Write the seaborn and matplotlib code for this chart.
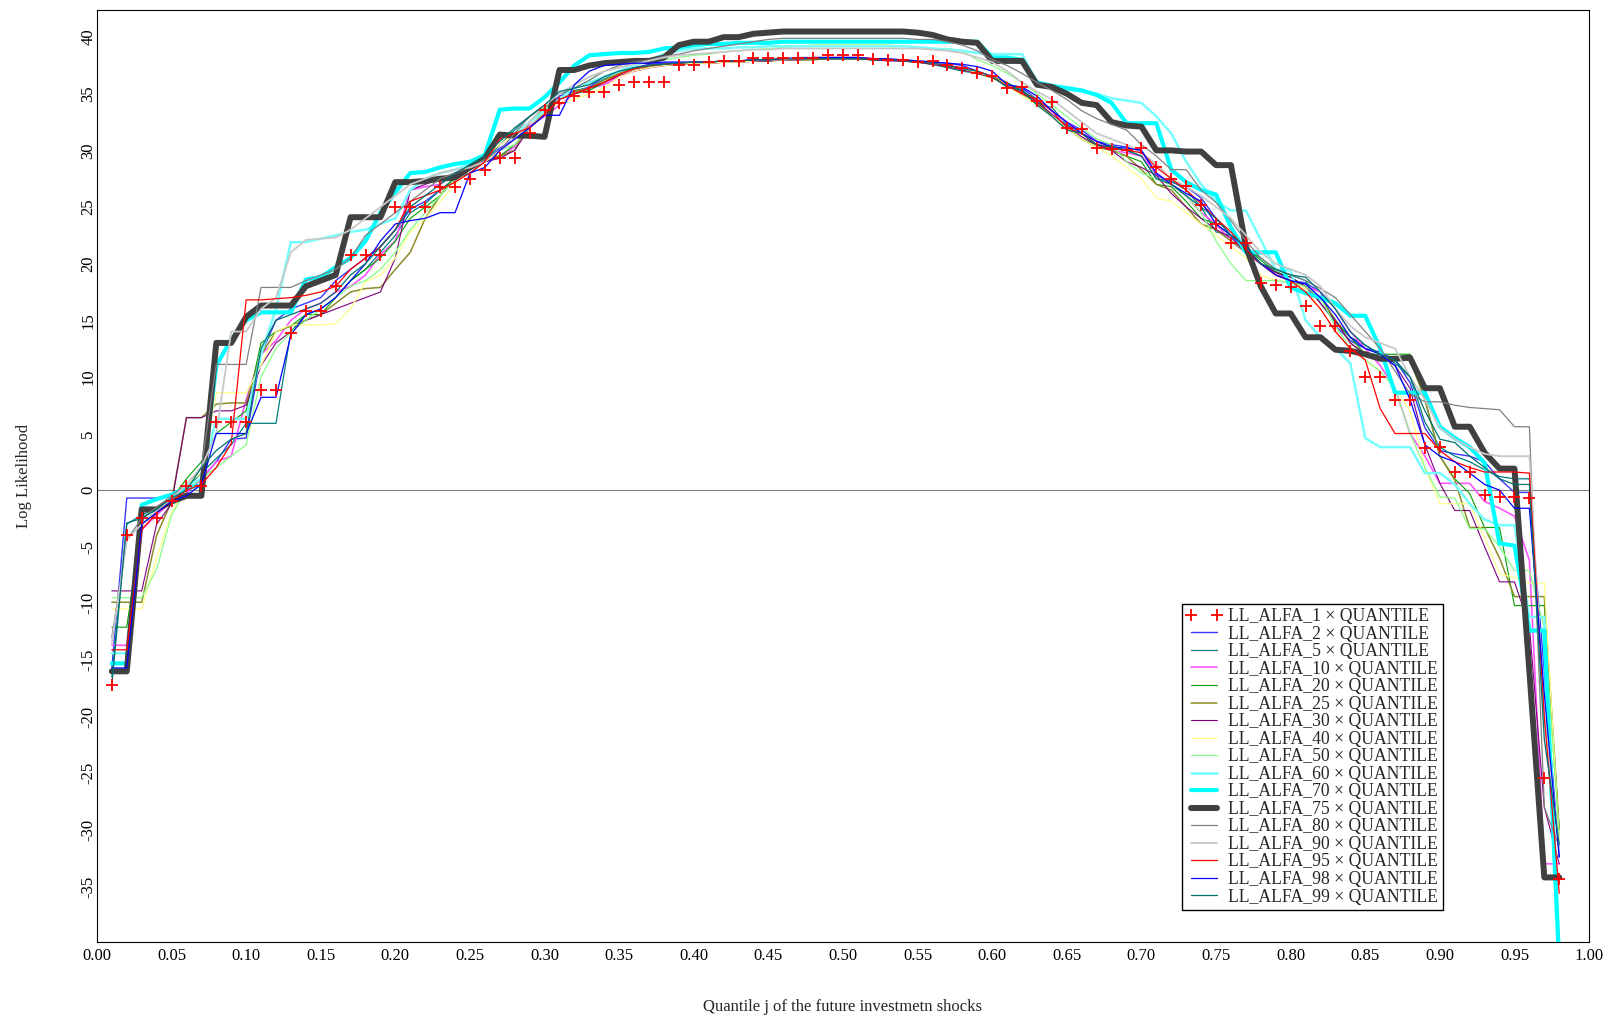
import numpy as np
import pandas as pd
import matplotlib
matplotlib.use('Agg')
import matplotlib.pyplot as plt
import seaborn as sns
from matplotlib.ticker import MultipleLocator, FormatStrFormatter

# quantile grid j = 0.01 ... 0.98
quantile_j = np.round(np.arange(1, 99) * 0.01, 2)

alfa_levels = [1, 2, 5, 10, 20, 25, 30, 40, 50, 60, 70, 75, 80, 90, 95, 98, 99]

ll_alfa_1 = [
    -17.2, -4.0, -2.5, -2.5, -1.0, 0.4, 0.4, 6.0, 6.0, 6.0,
    8.8, 8.8, 13.9, 15.8, 15.8, 18.0, 20.8, 20.8, 20.8, 25.0,
    25.0, 25.0, 26.8, 26.8, 27.5, 28.3, 29.3, 29.3, 31.5, 33.6,
    34.2, 34.8, 35.2, 35.2, 35.8, 36.0, 36.0, 36.0, 37.5, 37.5,
    37.8, 37.9, 37.9, 38.2, 38.2, 38.2, 38.2, 38.2, 38.4, 38.4,
    38.4, 38.1, 38.0, 38.0, 37.8, 37.9, 37.5, 37.3, 36.8, 36.6,
    35.5, 35.6, 34.4, 34.3, 32.0, 31.9, 30.2, 30.1, 30.0, 30.2,
    28.5, 27.5, 26.9, 25.2, 23.5, 21.8, 21.8, 18.3, 18.1, 17.9,
    16.3, 14.5, 14.5, 12.3, 10.0, 10.0, 8.0, 8.0, 3.7, 3.8,
    1.6, 1.6, -0.4, -0.6, -0.6, -0.7, -25.4, -34.3]

ll_alfa_2 = [
    -15.7, -0.7, -0.7, -0.7, -0.5, -0.3, 1.0, 2.5, 4.5, 4.6,
    12.0, 15.0, 16.0, 16.5, 17.0, 18.5, 19.5, 20.5, 21.5, 23.0,
    24.8, 25.5, 26.5, 27.5, 28.5, 29.0, 30.2, 31.0, 32.5, 33.5,
    34.8, 35.2, 35.6, 36.5, 37.0, 37.3, 37.6, 37.7, 37.7, 37.7,
    37.8, 37.8, 37.9, 38.0, 38.0, 38.1, 38.2, 38.2, 38.2, 38.2,
    38.2, 38.1, 38.0, 38.0, 37.9, 37.8, 37.7, 37.5, 37.0, 36.5,
    35.8, 35.5, 34.5, 33.5, 32.5, 31.8, 30.8, 30.5, 30.3, 30.0,
    27.8, 27.2, 26.8, 25.8, 24.0, 22.5, 21.0, 20.0, 19.3, 18.5,
    18.3, 17.5, 14.5, 13.2, 12.5, 12.2, 11.5, 9.5, 5.5, 3.5,
    3.2, 3.0, 2.5, 1.0, -0.2, -0.2, -16.0, -32.4]

ll_alfa_5 = [
    -16.5, -3.0, -2.2, -1.6, -0.8, 0.2, 1.5, 2.8, 4.0, 5.9,
    5.9, 5.9, 14.0, 15.5, 16.0, 17.0, 18.5, 19.5, 21.0, 22.5,
    24.5, 25.3, 26.5, 27.5, 28.0, 29.0, 30.5, 31.8, 33.0, 34.0,
    35.0, 35.3, 35.5, 36.3, 37.0, 37.3, 37.5, 37.6, 37.7, 37.7,
    37.8, 37.8, 37.9, 37.9, 38.0, 38.0, 38.1, 38.1, 38.1, 38.1,
    38.1, 38.0, 38.0, 37.9, 37.8, 37.6, 37.3, 37.0, 36.8, 36.5,
    35.6, 35.4, 34.0, 33.8, 32.3, 31.5, 30.5, 30.4, 30.0, 29.5,
    27.5, 27.3, 26.5, 25.0, 22.8, 22.5, 21.5, 20.5, 19.5, 19.0,
    18.5, 16.5, 14.8, 13.5, 12.8, 12.0, 11.2, 10.0, 6.0, 3.8,
    3.0, 2.5, 1.8, 1.2, 1.0, 1.0, -20.0, -31.3]

ll_alfa_10 = [
    -13.7, -13.7, -3.5, -2.2, -1.0, -0.2, 1.0, 2.5, 3.0, 8.0,
    12.0, 13.2, 15.0, 16.0, 16.5, 17.5, 18.0, 19.0, 20.8, 22.0,
    26.5, 26.8, 27.0, 28.0, 28.5, 29.0, 29.5, 30.3, 32.2, 33.0,
    34.0, 35.0, 35.5, 35.8, 36.5, 37.0, 37.3, 37.5, 37.6, 37.7,
    37.7, 37.8, 37.8, 37.9, 38.0, 38.0, 38.1, 38.1, 38.2, 38.2,
    38.2, 38.1, 38.0, 37.9, 37.8, 37.7, 37.5, 37.2, 36.9, 36.6,
    36.0, 35.0, 34.5, 33.5, 32.5, 31.5, 30.8, 30.0, 29.8, 29.5,
    28.0, 27.0, 26.0, 24.5, 23.5, 22.0, 21.0, 20.0, 19.0, 18.5,
    18.0, 17.5, 16.0, 14.0, 12.5, 11.0, 9.0, 5.0, 3.0, 0.6,
    0.6, 0.6, -1.0, -1.6, -2.3, -6.2, -33.0, -33.0]

ll_alfa_20 = [
    -12.1, -12.1, -3.0, -2.0, -0.8, 1.0, 2.5, 5.0, 6.0, 7.0,
    13.0, 14.0, 14.5, 15.5, 15.5, 17.0, 18.5, 19.5, 20.5, 22.0,
    24.0, 25.0, 26.0, 27.8, 28.5, 29.0, 29.5, 30.5, 32.0, 33.2,
    34.5, 35.0, 35.3, 36.0, 36.8, 37.2, 37.5, 37.6, 37.7, 37.7,
    37.8, 37.8, 37.8, 37.9, 37.9, 38.0, 38.0, 38.0, 38.1, 38.1,
    38.1, 38.0, 38.0, 37.9, 37.8, 37.7, 37.5, 37.2, 36.8, 36.5,
    36.0, 35.2, 34.5, 33.0, 32.0, 31.0, 30.5, 30.0, 29.5, 29.0,
    27.0, 26.8, 25.5, 24.0, 23.5, 22.5, 21.5, 20.3, 19.3, 18.8,
    18.0, 17.0, 15.0, 13.5, 12.0, 12.0, 12.0, 12.0, 8.0, 3.0,
    1.0, -0.3, -3.3, -3.3, -10.2, -10.2, -10.2, -30.0]

ll_alfa_25 = [
    -9.9, -9.9, -9.9, -4.0, -1.0, 6.4, 6.4, 7.6, 7.7, 7.7,
    12.0, 14.0, 14.5, 15.0, 15.5, 16.5, 17.5, 17.8, 17.9, 19.5,
    21.0, 24.0, 26.0, 27.5, 28.5, 29.5, 29.5, 30.0, 32.5, 33.8,
    34.5, 35.2, 35.5, 36.2, 36.8, 37.2, 37.4, 37.5, 37.6, 37.7,
    37.7, 37.8, 37.8, 37.9, 37.9, 38.0, 38.0, 38.0, 38.1, 38.1,
    38.1, 38.0, 38.0, 37.9, 37.8, 37.6, 37.4, 37.1, 36.8, 36.4,
    35.8, 35.0, 34.2, 33.0, 32.0, 31.0, 30.3, 30.0, 29.5, 28.3,
    27.0, 26.5, 25.0, 23.5, 23.0, 22.0, 21.0, 20.0, 19.0, 18.5,
    18.0, 17.0, 15.0, 13.0, 12.0, 11.5, 11.5, 11.5, 8.0, 3.0,
    0.9, -3.3, -3.3, -6.0, -9.4, -9.4, -9.4, -30.0]

ll_alfa_30 = [
    -8.9, -8.9, -8.9, -3.0, -1.2, 6.4, 6.4, 7.0, 7.0, 7.5,
    11.0, 13.0, 14.0, 15.0, 15.5, 16.0, 16.5, 17.0, 17.5, 20.5,
    26.5, 27.0, 27.5, 28.0, 28.5, 29.0, 29.3, 30.0, 32.0, 33.5,
    34.5, 35.0, 35.5, 36.0, 36.6, 37.0, 37.3, 37.5, 37.6, 37.7,
    37.7, 37.8, 37.8, 37.9, 37.9, 38.0, 38.0, 38.1, 38.1, 38.1,
    38.1, 38.0, 37.9, 37.9, 37.8, 37.6, 37.4, 37.1, 36.8, 36.5,
    35.8, 35.2, 34.3, 33.2, 32.2, 31.2, 30.5, 30.0, 29.0, 28.5,
    27.8, 26.2, 25.0, 24.0, 23.0, 22.3, 21.0, 20.0, 19.2, 18.8,
    18.0, 16.5, 15.0, 13.0, 12.0, 11.8, 11.0, 9.0, 4.0, 0.6,
    -1.8, -1.8, -5.0, -8.1, -8.1, -12.0, -28.0, -33.0]

ll_alfa_40 = [
    -10.5, -10.5, -10.5, -6.0, -2.0, 0.5, 1.5, 8.6, 8.6, 8.6,
    11.0, 14.0, 14.6, 14.6, 14.6, 14.7, 16.0, 18.4, 19.0, 20.5,
    22.8, 24.0, 25.5, 27.0, 28.5, 29.5, 30.5, 31.5, 32.5, 33.5,
    34.2, 34.5, 35.0, 35.5, 36.5, 37.0, 37.3, 37.5, 37.6, 37.7,
    37.7, 37.8, 37.8, 37.9, 38.0, 38.0, 38.1, 38.1, 38.2, 38.2,
    38.2, 38.1, 38.0, 38.0, 37.9, 37.7, 37.5, 37.2, 36.9, 36.5,
    35.8, 34.8, 34.0, 33.0, 32.0, 31.0, 30.3, 29.5, 28.5, 27.5,
    25.8, 25.5, 24.5, 23.5, 22.5, 21.5, 20.5, 19.0, 18.5, 18.3,
    17.8, 16.0, 14.0, 12.5, 11.5, 10.5, 9.0, 7.0, 2.0, -1.2,
    -1.2, -1.2, -4.2, -7.4, -7.7, -8.2, -8.2, -31.0]

ll_alfa_50 = [
    -9.5, -9.5, -9.5, -7.0, -2.2, 0.0, 1.0, 2.0, 3.0, 4.0,
    10.0, 12.5, 14.0, 15.0, 16.0, 17.0, 18.0, 18.5, 19.5, 21.0,
    23.0, 24.5, 26.0, 27.5, 28.5, 29.0, 30.0, 30.5, 32.0, 33.5,
    34.5, 35.5, 36.2, 37.0, 37.3, 37.5, 37.8, 38.0, 38.2, 38.4,
    38.5, 38.7, 38.8, 38.9, 39.0, 39.1, 39.2, 39.3, 39.3, 39.3,
    39.3, 39.3, 39.3, 39.2, 39.1, 39.0, 39.0, 38.8, 38.0, 37.5,
    36.8, 36.0, 35.0, 34.0, 33.0, 32.0, 31.0, 30.5, 29.0, 28.0,
    27.5, 27.0, 26.0, 24.5, 22.0, 20.0, 18.5, 18.5, 18.5, 18.3,
    18.0, 17.0, 14.5, 12.5, 11.5, 10.5, 9.0, 5.0, 2.0, -0.6,
    -0.7, -3.4, -3.4, -5.0, -7.1, -7.1, -12.2, -30.5]

ll_alfa_60 = [
    -14.4, -14.4, -2.5, -1.6, -0.6, 0.4, 1.0, 6.3, 6.3, 6.3,
    12.0, 16.0, 21.9, 21.9, 22.2, 22.5, 22.8, 23.0, 23.5, 24.0,
    26.5, 27.5, 28.0, 28.3, 28.8, 29.5, 31.0, 31.5, 32.5, 33.5,
    34.5, 35.5, 36.0, 36.5, 37.0, 37.5, 38.0, 38.5, 38.8, 39.0,
    39.0, 39.0, 39.1, 39.1, 39.2, 39.2, 39.2, 39.2, 39.2, 39.2,
    39.2, 39.2, 39.2, 39.2, 39.1, 39.0, 38.9, 38.8, 38.6, 38.5,
    38.5, 38.5, 36.0, 35.6, 35.4, 35.2, 35.0, 34.6, 34.4, 34.2,
    33.0, 31.5, 29.0, 27.0, 25.5, 24.7, 24.7, 22.1, 19.5, 19.4,
    15.0, 13.5, 12.5, 11.2, 4.6, 3.8, 3.8, 3.8, 1.5, 1.5,
    0.5, -1.2, -2.6, -3.1, -3.1, -11.2, -11.2, -40.0]

ll_alfa_70 = [
    -15.3, -15.3, -1.3, -0.8, -0.4, 0.2, 0.4, 11.0, 13.3, 15.0,
    15.7, 15.7, 15.7, 18.6, 18.8, 19.7, 20.5, 22.0, 24.5, 26.3,
    28.0, 28.1, 28.5, 28.8, 29.0, 29.6, 33.6, 33.7, 33.7, 34.7,
    36.0, 37.5, 38.4, 38.5, 38.6, 38.6, 38.7, 39.0, 39.1, 39.3,
    39.4, 39.4, 39.5, 39.5, 39.5, 39.6, 39.6, 39.6, 39.6, 39.6,
    39.6, 39.6, 39.6, 39.6, 39.6, 39.6, 39.6, 39.6, 39.6, 38.2,
    38.2, 38.0, 36.0, 35.7, 35.5, 35.3, 34.9, 34.2, 32.4, 32.4,
    32.4, 28.3, 27.2, 26.5, 26.1, 23.2, 21.0, 21.0, 21.0, 17.9,
    17.4, 17.0, 16.5, 15.4, 15.4, 12.5, 8.6, 8.6, 8.6, 5.6,
    4.6, 3.8, 2.4, -4.7, -4.9, -12.4, -12.4, -42.0]

ll_alfa_75 = [
    -16.0, -16.0, -1.7, -1.7, -1.0, -0.5, -0.5, 13.0, 13.0, 15.3,
    16.3, 16.3, 16.3, 18.0, 18.5, 19.0, 24.1, 24.1, 24.1, 27.2,
    27.2, 27.3, 27.5, 27.6, 28.5, 29.3, 31.4, 31.3, 31.3, 31.2,
    37.1, 37.1, 37.5, 37.7, 37.8, 37.9, 37.9, 38.2, 39.3, 39.6,
    39.6, 40.0, 40.0, 40.3, 40.4, 40.5, 40.5, 40.5, 40.5, 40.5,
    40.5, 40.5, 40.5, 40.5, 40.4, 40.2, 39.8, 39.6, 39.5, 37.9,
    37.9, 37.9, 35.8, 35.6, 35.0, 34.2, 34.0, 32.5, 32.2, 32.1,
    30.0, 30.0, 29.9, 29.9, 28.7, 28.7, 21.5, 18.0, 15.6, 15.6,
    13.5, 13.5, 12.4, 12.3, 12.0, 11.6, 11.6, 11.7, 9.0, 9.0,
    5.6, 5.6, 3.3, 1.9, 1.9, -16.0, -34.2, -34.2]

ll_alfa_80 = [
    -13.0, -4.4, -2.5, -1.5, -0.5, 0.5, 2.0, 11.1, 11.1, 11.1,
    17.9, 17.9, 17.9, 18.5, 19.0, 19.5, 20.5, 22.5, 23.5, 24.5,
    25.5, 26.5, 27.5, 28.0, 28.5, 29.2, 30.0, 31.5, 33.0, 34.0,
    35.0, 35.5, 36.2, 37.0, 37.5, 37.8, 38.0, 38.3, 38.5, 38.8,
    39.0, 39.2, 39.4, 39.6, 39.8, 39.9, 39.9, 39.9, 39.9, 39.9,
    39.9, 39.9, 39.9, 39.9, 39.8, 39.8, 39.6, 39.3, 38.8, 38.0,
    37.5, 36.8, 36.0, 35.3, 34.5, 33.5, 32.8, 32.3, 31.8, 30.5,
    29.5, 28.3, 28.3, 26.5, 25.4, 23.8, 22.0, 20.5, 19.5, 19.0,
    18.5, 17.8, 17.0, 15.5, 14.0, 12.5, 10.5, 8.5, 7.8, 7.8,
    7.5, 7.3, 7.2, 7.1, 5.6, 5.6, -28.0, -31.5]

ll_alfa_90 = [
    -13.5, -4.4, -3.0, -1.8, -0.8, 0.5, 2.0, 5.0, 14.0, 14.0,
    16.0, 17.0, 21.0, 22.1, 22.2, 22.3, 23.0, 24.0, 25.0, 26.0,
    27.0, 27.5, 28.0, 28.3, 28.5, 29.0, 30.0, 31.0, 32.5, 34.0,
    35.0, 35.8, 36.5, 37.0, 37.3, 37.6, 37.9, 38.2, 38.4, 38.5,
    38.6, 38.7, 38.8, 38.9, 38.9, 39.0, 39.0, 39.0, 39.0, 39.0,
    39.0, 39.0, 39.0, 39.0, 39.0, 38.9, 38.8, 38.6, 38.2, 37.8,
    37.0, 36.0, 35.2, 34.5, 33.5, 32.5, 31.5, 31.0, 30.5, 29.8,
    28.8, 27.5, 26.8, 26.0, 25.0, 24.0, 22.5, 21.0, 20.0, 19.5,
    19.0, 18.0, 16.0, 14.5, 13.5, 13.0, 12.5, 10.0, 8.0, 5.5,
    4.5, 3.8, 3.2, 3.0, 3.0, 3.0, -20.0, -31.4]

ll_alfa_95 = [
    -14.1, -14.1, -3.5, -2.0, -1.0, 0.0, 0.5, 2.0, 4.1, 16.8,
    16.8, 16.9, 17.0, 17.2, 17.5, 18.0, 19.5, 20.5, 21.5, 23.0,
    25.5, 26.0, 26.5, 27.2, 28.0, 29.0, 31.0, 31.5, 32.0, 33.2,
    34.5, 35.0, 35.5, 36.0, 36.7, 37.2, 37.5, 37.6, 37.7, 37.8,
    37.8, 37.9, 37.9, 38.0, 38.0, 38.1, 38.1, 38.2, 38.2, 38.2,
    38.2, 38.1, 38.0, 37.9, 37.8, 37.7, 37.5, 37.3, 37.0, 36.5,
    35.7, 35.0, 34.5, 33.5, 32.0, 31.5, 30.5, 30.2, 30.0, 29.8,
    28.5, 27.5, 26.5, 25.3, 24.0, 22.8, 21.3, 20.0, 19.0, 18.5,
    17.5, 16.0, 14.0, 12.5, 11.5, 7.2, 5.0, 5.0, 5.0, 3.5,
    2.5, 2.0, 1.6, 1.6, 1.6, 1.5, -20.0, -35.6]

ll_alfa_98 = [
    -15.7, -15.7, -3.0, -2.0, -1.0, -0.5, 0.5, 5.0, 5.0, 5.0,
    8.2, 8.2, 13.7, 15.5, 16.0, 17.0, 18.5, 20.0, 22.0, 23.5,
    23.8, 24.0, 24.5, 24.5, 28.0, 28.5, 30.0, 31.0, 32.0, 33.1,
    33.1, 35.8, 37.0, 37.5, 37.6, 37.7, 37.7, 37.8, 37.8, 37.8,
    37.8, 37.9, 37.9, 38.0, 38.0, 38.1, 38.1, 38.2, 38.2, 38.2,
    38.2, 38.1, 38.1, 38.0, 37.9, 37.8, 37.7, 37.6, 37.4, 37.0,
    35.8, 35.6, 34.8, 33.5, 32.5, 31.5, 30.8, 30.3, 30.2, 30.0,
    28.0, 27.0, 26.2, 25.5, 23.5, 22.5, 21.5, 20.0, 19.0, 18.5,
    18.2, 17.0, 15.5, 13.5, 12.5, 12.0, 11.0, 8.0, 4.0, 3.0,
    2.5, 1.5, 0.5, 0.0, -1.6, -1.6, -18.0, -32.4]

ll_alfa_99 = [
    -17.2, -2.9, -2.5, -1.7, -0.7, 0.0, 2.0, 3.5, 4.5, 5.0,
    12.5, 15.0, 15.5, 16.0, 16.5, 17.5, 19.0, 20.0, 21.5, 23.0,
    25.0, 26.0, 27.0, 28.0, 28.7, 29.5, 30.8, 32.0, 33.0, 34.0,
    35.2, 35.5, 35.8, 36.5, 37.0, 37.3, 37.5, 37.6, 37.7, 37.8,
    37.8, 37.9, 37.9, 38.0, 38.0, 38.1, 38.1, 38.1, 38.1, 38.1,
    38.1, 38.0, 38.0, 37.9, 37.8, 37.7, 37.5, 37.2, 37.0, 36.5,
    35.6, 35.3, 34.0, 33.0, 31.8, 31.5, 30.5, 30.3, 30.0, 29.5,
    27.5, 27.0, 26.0, 25.0, 24.0, 22.5, 21.5, 20.0, 19.5, 19.0,
    18.8, 17.5, 16.0, 14.0, 12.8, 12.0, 11.5, 10.0, 7.0, 4.5,
    4.2, 3.0, 2.0, 1.0, 0.5, 0.5, -22.0, -31.3]

series = [ll_alfa_1, ll_alfa_2, ll_alfa_5, ll_alfa_10, ll_alfa_20, ll_alfa_25,
          ll_alfa_30, ll_alfa_40, ll_alfa_50, ll_alfa_60, ll_alfa_70, ll_alfa_75,
          ll_alfa_80, ll_alfa_90, ll_alfa_95, ll_alfa_98, ll_alfa_99]

colors = ['#FF0000', '#3838FF', '#008080', '#FF55FF', '#00A000', '#8C8C2A',
          '#800080', '#FFFF88', '#88FF88', '#77FFFF', '#00FFFF', '#404040',
          '#808080', '#C8C8C8', '#FF0000', '#0000FF', '#007070']
widths = [0, 1.0, 0.9, 1.2, 0.8, 1.1, 0.8, 0.9, 0.9, 1.8, 3.0, 4.3,
          0.9, 1.3, 0.9, 0.9, 0.9]

sns.set_style('white')
plt.rcParams['font.family'] = ['Liberation Serif', 'DejaVu Serif']
plt.rcParams['axes.unicode_minus'] = False

fig = plt.figure(figsize=(16.1, 10.19), dpi=100)
ax = fig.add_axes([0.0602, 0.0756, 0.9268, 0.9146])

ax.axhline(0, color='#808080', lw=0.8, zorder=1)

for k, ys, col, lw in zip(alfa_levels, series, colors, widths):
    df = pd.DataFrame({'q': quantile_j, 'll': ys})
    lab = 'LL_ALFA_%d \u00d7 QUANTILE' % k
    if k == 1:
        sns.lineplot(data=df, x='q', y='ll', ax=ax, estimator=None, sort=False,
                     color=col, marker='+', markersize=8, markeredgewidth=1.3,
                     markeredgecolor=col, linestyle='none', label=lab, zorder=6)
    else:
        sns.lineplot(data=df, x='q', y='ll', ax=ax, estimator=None, sort=False,
                     color=col, linewidth=lw, label=lab, zorder=3)

ax.set_xlim(0, 1)
ax.set_ylim(-39.9, 42.4)
ax.xaxis.set_major_locator(MultipleLocator(0.05))
ax.xaxis.set_minor_locator(MultipleLocator(0.025))
ax.xaxis.set_major_formatter(FormatStrFormatter('%.2f'))
ax.yaxis.set_major_locator(MultipleLocator(5))
ax.yaxis.set_minor_locator(MultipleLocator(2.5))
ax.tick_params(which='major', direction='in', length=17, width=0.8,
               top=False, right=False, labelsize=12, pad=4, colors='black')
ax.tick_params(which='minor', direction='in', length=8.6, width=0.8,
               top=False, right=False)
ax.tick_params(axis='y', labelrotation=90, pad=0.5)
for t in ax.get_yticklabels():
    t.set_va('center')

for sp in ax.spines.values():
    sp.set_color('black')
    sp.set_linewidth(0.8)

ax.set_xlabel('Quantile j of the future investmetn shocks', fontsize=12, labelpad=25.5)
ax.set_ylabel('Log Likelihood', fontsize=12, labelpad=34.5)

handles, labels = ax.get_legend_handles_labels()
leg = ax.legend(handles, labels, loc='upper left', bbox_to_anchor=(0.727, 0.363),
                borderaxespad=0, frameon=True, fancybox=False, edgecolor='black',
                framealpha=1, fontsize=12.7, labelspacing=0.03, handlelength=2.05,
                handletextpad=0.35, borderpad=0.25, numpoints=2)
leg.get_frame().set_linewidth(1.0)

fig.savefig('out.png', dpi=100)
